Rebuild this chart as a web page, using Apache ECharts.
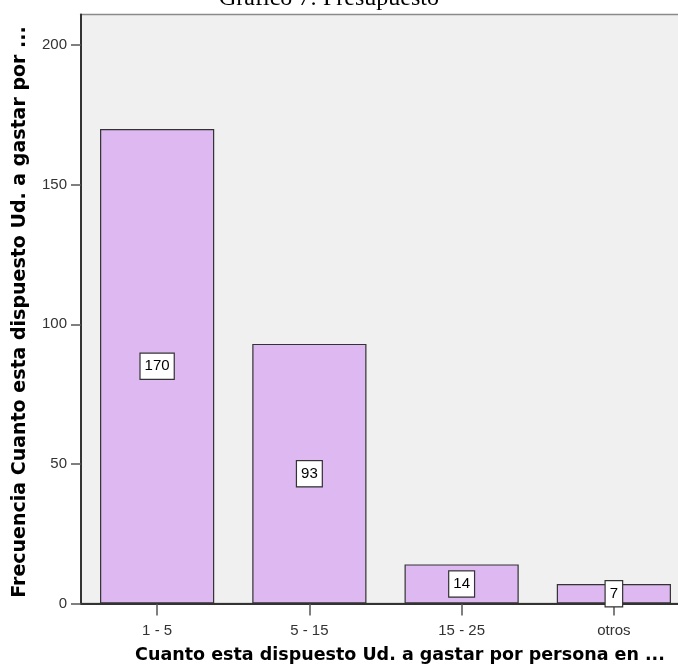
<!DOCTYPE html>
<html>
<head>
<meta charset="utf-8">
<script src="https://cdn.jsdelivr.net/npm/echarts@6/dist/echarts.min.js"></script>
<style>
html,body{margin:0;padding:0;background:#fff;}
#c{width:678px;height:668px;}
</style>
</head>
<body>
<div id="c"></div>
<script>
const categories = ['1 - 5', '5 - 15', '15 - 25', 'otros'];
const frequencies = [170, 93, 14, 7];
const yTicks = [0, 50, 100, 150, 200];
const titleText = 'Gráfico 7: Presupuesto';
const xAxisTitle = 'Cuanto esta dispuesto Ud. a gastar por persona en ...';
const yAxisTitle = 'Frecuencia Cuanto esta dispuesto Ud. a gastar por ...';

const chart = echarts.init(document.getElementById('c'), null, {renderer: 'canvas'});
chart.setOption({
  backgroundColor: '#ffffff',
  animation: false,
  title: {
    text: titleText,
    left: 329,
    textAlign: 'center',
    top: -13,
    padding: 0,
    textStyle: {fontFamily: 'Liberation Serif', fontWeight: 'normal', fontSize: 24, color: '#000'}
  },
  grid: {left: 81, top: 14.5, width: 609, height: 589, outerBoundsMode: 'none', containLabel: false,
    show: true, backgroundColor: '#f0f0f0', borderColor: '#8a8a8a', borderWidth: 1.5},
  xAxis: {
    type: 'category',
    data: categories,
    axisLine: {lineStyle: {color: '#333', width: 2}},
    axisTick: {show: true, alignWithLabel: true, length: 12, lineStyle: {color: '#555', width: 1.5}},
    axisLabel: {fontFamily: 'Liberation Sans', fontSize: 15, color: '#333', margin: 20}
  },
  yAxis: {
    type: 'value',
    min: 0,
    max: 211,
    interval: 50,
    axisLine: {show: true, lineStyle: {color: '#333', width: 2}},
    axisTick: {show: true, length: 10, customValues: yTicks, lineStyle: {color: '#555', width: 1.5}},
    splitLine: {show: false},
    axisLabel: {fontFamily: 'Liberation Sans', fontSize: 15, color: '#333', margin: 14, customValues: yTicks}
  },
  series: [{
    type: 'bar',
    data: frequencies,
    barCategoryGap: '25%',
    itemStyle: {color: '#ddb8f1', borderColor: '#333', borderWidth: 1.2},
    label: {
      show: true,
      position: 'inside',
      fontFamily: 'Liberation Sans',
      fontSize: 15,
      lineHeight: 16,
      color: '#000',
      backgroundColor: '#fff',
      borderColor: '#333',
      borderWidth: 1.2,
      padding: [5, 4, 4, 4]
    }
  }],
  graphic: [
    {type: 'text', x: 400, y: 655, style: {text: xAxisTitle, font: 'bold 17.5px "DejaVu Sans"', fill: '#000', textAlign: 'center', textVerticalAlign: 'middle'}},
    {type: 'text', x: 20.5, y: 312, rotation: Math.PI / 2, style: {text: yAxisTitle, font: 'bold 19px "DejaVu Sans"', fill: '#000', textAlign: 'center', textVerticalAlign: 'middle'}}
  ]
});
</script>
</body>
</html>
